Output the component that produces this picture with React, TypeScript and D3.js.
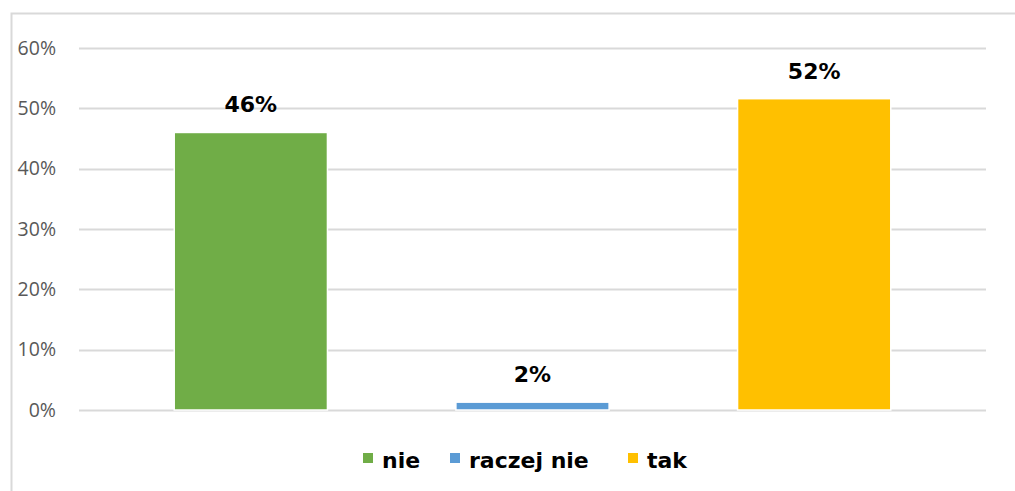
import React, { useEffect, useRef } from 'react'
import * as d3 from 'd3'

const categories = ['nie', 'raczej nie', 'tak']
const values = [46, 1.3, 51.6]
const valueLabels = ['46%', '2%', '52%']
const colors = ['#70AD47', '#5B9BD5', '#FFC000']
const yTicks = [0, 10, 20, 30, 40, 50, 60]

const WIDTH = 1015
const HEIGHT = 491

export default function App() {
  const ref = useRef<SVGSVGElement | null>(null)

  useEffect(() => {
    const svg = d3.select(ref.current)
    svg.selectAll('*').remove()

    const x = d3.scaleBand().domain(categories).range([110, 955])
      .paddingInner(0.456).paddingOuter(0.228)
    const y = d3.scaleLinear().domain([0, 60]).range([410, 48])

    // chart frame (cropped on right and bottom)
    svg.append('path')
      .attr('d', 'M11.5,' + HEIGHT + ' V13.5 H' + WIDTH)
      .attr('fill', 'none')
      .attr('stroke', '#d9d9d9')
      .attr('stroke-width', 2)

    // gridlines
    svg.append('g')
      .selectAll('line')
      .data(yTicks)
      .join('line')
      .attr('x1', 79)
      .attr('x2', 986)
      .attr('y1', d => Math.round(y(d)) + 0.5)
      .attr('y2', d => Math.round(y(d)) + 0.5)
      .attr('stroke', '#d9d9d9')
      .attr('stroke-width', 2)

    // tick labels
    svg.append('g')
      .selectAll('text')
      .data(yTicks)
      .join('text')
      .attr('x', 56)
      .attr('y', d => y(d))
      .attr('dy', '0.35em')
      .attr('text-anchor', 'end')
      .style('font-family', '"Open Sans", sans-serif')
      .style('font-size', '19.5px')
      .attr('fill', '#595959')
      .text(d => d + '%')

    // bars
    svg.append('g')
      .selectAll('rect')
      .data(categories)
      .join('rect')
      .attr('x', d => x(d)!)
      .attr('width', x.bandwidth())
      .attr('y', (d, i) => y(values[i]))
      .attr('height', (d, i) => y(0) - y(values[i]))
      .attr('fill', (d, i) => colors[i])
      .attr('stroke', '#ffffff')
      .attr('stroke-width', 1.5)

    // data labels
    svg.append('g')
      .selectAll('text')
      .data(categories)
      .join('text')
      .attr('x', d => x(d)! + x.bandwidth() / 2)
      .attr('y', (d, i) => y(values[i]) - 20)
      .attr('text-anchor', 'middle')
      .style('font-family', '"DejaVu Sans", sans-serif')
      .style('font-size', '22px')
      .style('font-weight', 'bold')
      .attr('fill', '#000000')
      .text((d, i) => valueLabels[i])

    // legend
    const legendX = [363, 450, 628]
    const legend = svg.append('g')
      .selectAll('g')
      .data(categories)
      .join('g')
      .attr('transform', (d, i) => 'translate(' + legendX[i] + ',0)')
    legend.append('rect')
      .attr('x', 0)
      .attr('y', 453)
      .attr('width', 10)
      .attr('height', 10)
      .attr('fill', (d, i) => colors[i])
    legend.append('text')
      .attr('x', 19)
      .attr('y', 468)
      .style('font-family', '"DejaVu Sans", sans-serif')
      .style('font-size', '22px')
      .style('font-weight', 'bold')
      .attr('fill', '#000000')
      .text(d => d)
  }, [])

  return (
    <svg ref={ref} width={WIDTH} height={HEIGHT}
      style={{ position: 'absolute', left: 0, top: 0, background: '#ffffff' }} />
  )
}
